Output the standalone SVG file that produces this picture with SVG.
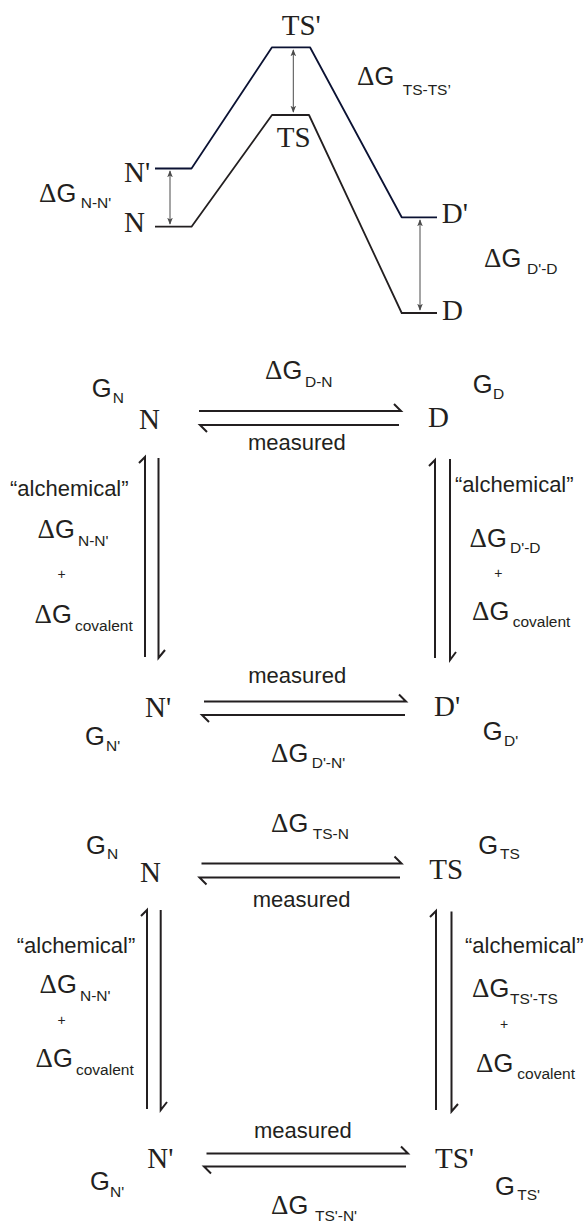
<svg xmlns="http://www.w3.org/2000/svg" width="587" height="1224" viewBox="0 0 587 1224">
<style>
text{fill:#231f20}
.s{font-family:"Liberation Serif","Times New Roman",serif;font-size:29px}
.g{font-family:"Liberation Sans",Arial,sans-serif;font-size:25.5px}
.dl{font-family:"Liberation Serif","Times New Roman",serif;font-size:27px}
.sb{font-family:"Liberation Sans",Arial,sans-serif;font-size:15.5px}
.t{font-family:"Liberation Sans",Arial,sans-serif;font-size:22px}
.p{font-family:"Liberation Sans",Arial,sans-serif;font-size:14px;text-anchor:middle}
.lvl{fill:none;stroke:#231f20;stroke-width:1.8;stroke-linejoin:round}
.lvlp{fill:none;stroke:#0b1233;stroke-width:1.8;stroke-linejoin:round}
.dbl{stroke:#4a4a4a;stroke-width:1;marker-start:url(#ah);marker-end:url(#ah)}
.hp{fill:none;stroke:#231f20;stroke-width:2;stroke-linejoin:miter}
</style>
<defs>
<marker id="ah" viewBox="0 0 10 10" refX="9" refY="5" markerWidth="7" markerHeight="7" markerUnits="userSpaceOnUse" orient="auto-start-reverse">
<path d="M0,1 L10,5 L0,9 L2.5,5 z" fill="#4a4a4a"/>
</marker>
</defs>

<g id="connectors">
<!-- energy profile -->
<path class="lvl" d="M155,226.7 H191.5 L272,115 H309 L401.7,313 H437"/>
<path class="lvlp" d="M155,168.5 H191.5 L272,47.3 H310 L401.7,217.3 H437"/>
<line class="dbl" x1="170" y1="171" x2="170" y2="224"/>
<line class="dbl" x1="293.3" y1="50" x2="293.3" y2="112"/>
<line class="dbl" x1="420" y1="220" x2="420" y2="310"/>
<!-- square 1 -->
<path class="hp" d="M199,411 H401 L394,404"/>
<path class="hp" d="M399,425 H200 L207,432"/>
<path class="hp" d="M145,657 V457 L139,463"/>
<path class="hp" d="M158.5,458 V658 L165,650"/>
<path class="hp" d="M435,658 V460 L429,466"/>
<path class="hp" d="M450,459 V660 L456,652"/>
<path class="hp" d="M204,701.5 H406 L399,694.5"/>
<path class="hp" d="M405,715 H202 L209,722"/>
<!-- square 2 -->
<path class="hp" d="M201.5,863.5 H401.5 L394.5,856.5"/>
<path class="hp" d="M400,877.5 H199.5 L206.5,884.5"/>
<path class="hp" d="M147,1109 V910 L141,916"/>
<path class="hp" d="M160.7,910 V1110 L167,1102"/>
<path class="hp" d="M436,1110 V911 L430,917"/>
<path class="hp" d="M451.5,911.5 V1111.5 L458,1104"/>
<path class="hp" d="M206.5,1153.5 H408 L401,1146.5"/>
<path class="hp" d="M406,1166.5 H204 L211,1173.5"/>
</g>

<!-- energy profile labels -->
<g id="e-TSp"><text class="s" x="281.7" y="35">TS'</text></g>
<g id="e-TS"><text class="s" x="276.7" y="147">TS</text></g>
<g id="e-Np"><text class="s" x="124" y="182">N'</text></g>
<g id="e-N"><text class="s" x="124" y="232">N</text></g>
<g id="e-Dp"><text class="s" x="441.7" y="223">D'</text></g>
<g id="e-D"><text class="s" x="442" y="320">D</text></g>
<g id="e-dG-NNp"><text x="39" y="201.7"><tspan class="dl">Δ</tspan><tspan class="g">G</tspan><tspan class="sb" x="80.7" y="208">N-N'</tspan></text></g>
<g id="e-dG-TSTSp"><text x="357" y="85"><tspan class="dl">Δ</tspan><tspan class="g">G</tspan><tspan class="sb" x="402.7" y="95">TS-TS’</tspan></text></g>
<g id="e-dG-DpD"><text x="484" y="266.7"><tspan class="dl">Δ</tspan><tspan class="g">G</tspan><tspan class="sb" x="527" y="273.5">D'-D</tspan></text></g>

<!-- square 1 -->
<g id="s1-N">
<text class="s" x="139" y="429">N</text>
<text x="91.7" y="396.7"><tspan class="g">G</tspan><tspan class="sb" x="112.7" y="402.7">N</tspan></text>
</g>
<g id="s1-D">
<text class="s" x="428" y="426.7">D</text>
<text x="472.7" y="393.3"><tspan class="g">G</tspan><tspan class="sb" x="493" y="398.5">D</tspan></text>
</g>
<g id="s1-Np">
<text class="s" x="145" y="716.7">N'</text>
<text x="85" y="745"><tspan class="g">G</tspan><tspan class="sb" x="106" y="750.5">N'</tspan></text>
</g>
<g id="s1-Dp">
<text class="s" x="434" y="716">D'</text>
<text x="482.7" y="740"><tspan class="g">G</tspan><tspan class="sb" x="504" y="745.5">D'</tspan></text>
</g>
<g id="s1-top-label">
<text x="265" y="379.3"><tspan class="dl">Δ</tspan><tspan class="g">G</tspan><tspan class="sb" x="305" y="386.7">D-N</tspan></text>
<text class="t" x="248" y="450">measured</text>
</g>
<g id="s1-left-label">
<text class="t" x="10" y="495.7">“alchemical”</text>
<text x="37.5" y="538.3"><tspan class="dl">Δ</tspan><tspan class="g">G</tspan><tspan class="sb" x="78" y="546">N-N'</tspan></text>
<text class="p" x="61.7" y="579">+</text>
<text x="34.5" y="623.3"><tspan class="dl">Δ</tspan><tspan class="g">G</tspan><tspan class="sb" x="75" y="630.7">covalent</tspan></text>
</g>
<g id="s1-right-label">
<text class="t" x="455" y="491.7">“alchemical”</text>
<text x="469.5" y="546.7"><tspan class="dl">Δ</tspan><tspan class="g">G</tspan><tspan class="sb" x="510" y="552.7">D'-D</tspan></text>
<text class="p" x="498.3" y="577.5">+</text>
<text x="472" y="620"><tspan class="dl">Δ</tspan><tspan class="g">G</tspan><tspan class="sb" x="512.7" y="626.7">covalent</tspan></text>
</g>
<g id="s1-bottom-label">
<text class="t" x="248.3" y="682.7">measured</text>
<text x="271" y="761.7"><tspan class="dl">Δ</tspan><tspan class="g">G</tspan><tspan class="sb" x="311.7" y="768.3">D'-N'</tspan></text>
</g>

<!-- square 2 -->
<g id="s2-N">
<text class="s" x="140" y="881.7">N</text>
<text x="86" y="854"><tspan class="g">G</tspan><tspan class="sb" x="107" y="859.3">N</tspan></text>
</g>
<g id="s2-TS">
<text class="s" x="429.3" y="879">TS</text>
<text x="478.3" y="854"><tspan class="g">G</tspan><tspan class="sb" x="500" y="859.3">TS</tspan></text>
</g>
<g id="s2-Np">
<text class="s" x="147.3" y="1168.3">N'</text>
<text x="90" y="1190"><tspan class="g">G</tspan><tspan class="sb" x="110" y="1196.7">N'</tspan></text>
</g>
<g id="s2-TSp">
<text class="s" x="435" y="1168.3">TS'</text>
<text x="495" y="1195"><tspan class="g">G</tspan><tspan class="sb" x="517.3" y="1200">TS'</tspan></text>
</g>
<g id="s2-top-label">
<text x="271" y="831.7"><tspan class="dl">Δ</tspan><tspan class="g">G</tspan><tspan class="sb" x="312.7" y="839.3">TS-N</tspan></text>
<text class="t" x="252.7" y="907.3">measured</text>
</g>
<g id="s2-left-label">
<text class="t" x="16.7" y="953.3">“alchemical”</text>
<text x="39.5" y="993.3"><tspan class="dl">Δ</tspan><tspan class="g">G</tspan><tspan class="sb" x="80" y="1000.7">N-N'</tspan></text>
<text class="p" x="61.7" y="1025">+</text>
<text x="35.5" y="1067.3"><tspan class="dl">Δ</tspan><tspan class="g">G</tspan><tspan class="sb" x="76" y="1075">covalent</tspan></text>
</g>
<g id="s2-right-label">
<text class="t" x="465" y="952.7">“alchemical”</text>
<text x="472" y="997.3"><tspan class="dl">Δ</tspan><tspan class="g">G</tspan><tspan class="sb" x="510" y="1004">TS'-TS</tspan></text>
<text class="p" x="504" y="1029">+</text>
<text x="476" y="1071.7"><tspan class="dl">Δ</tspan><tspan class="g">G</tspan><tspan class="sb" x="517.3" y="1079.3">covalent</tspan></text>
</g>
<g id="s2-bottom-label">
<text class="t" x="254" y="1138.3">measured</text>
<text x="271" y="1214"><tspan class="dl">Δ</tspan><tspan class="g">G</tspan><tspan class="sb" x="315" y="1221">TS'-N'</tspan></text>
</g>
</svg>
